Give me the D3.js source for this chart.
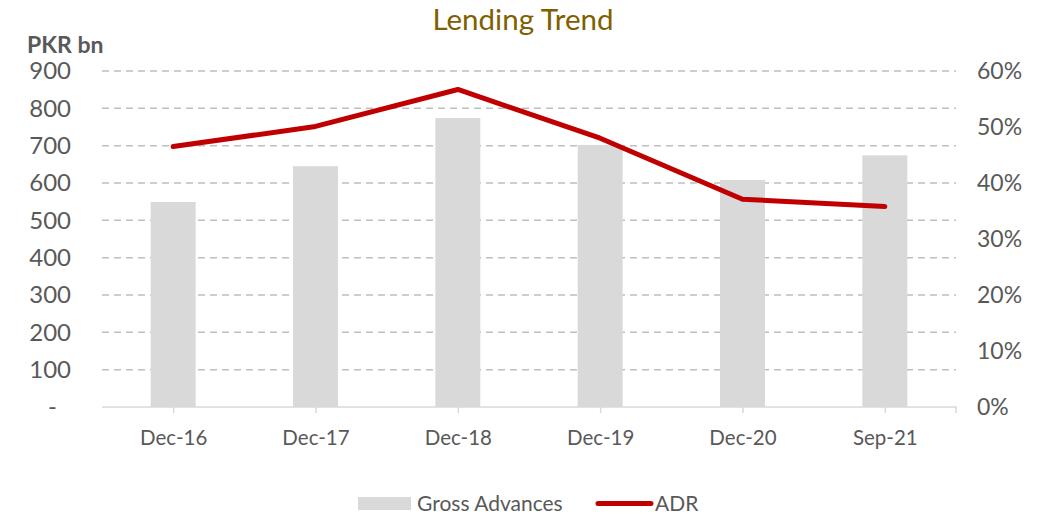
<!DOCTYPE html>
<html><head><meta charset="utf-8">
<script src="https://cdn.jsdelivr.net/npm/d3@7/dist/d3.min.js"></script>
<style>body{margin:0;background:#fff;} svg{display:block;font-family:Lato,"Open Sans",sans-serif;}</style>
</head><body>
<svg id="c" width="1041" height="516"></svg>
<script>
const categories = ["Dec-16","Dec-17","Dec-18","Dec-19","Dec-20","Sep-21"];
const grossAdvances = [549, 645, 774, 702, 608, 674];
const adr = [0.465, 0.501, 0.567, 0.480, 0.371, 0.358];
const leftTicks = [0,100,200,300,400,500,600,700,800,900];
const rightTicks = [0,0.1,0.2,0.3,0.4,0.5,0.6];

const svg = d3.select("#c");
const L = 102, R = 956, T = 71, B = 407;
const x = d3.scaleBand().domain(categories).range([L, R]).paddingInner(0.684).paddingOuter(0.342);
const xc = d3.scalePoint().domain(categories).range([L, R]).padding(0.5);
const yL = d3.scaleLinear().domain([0, 900]).range([B, T]);
const yR = d3.scaleLinear().domain([0, 0.6]).range([B, T]);
const txt = "#595959";

// title
svg.append("text").attr("x", 523).attr("y", 30).attr("text-anchor","middle")
  .attr("font-size", 29.5).attr("fill", "#7F6000").text("Lending Trend");
svg.append("text").attr("x", 27).attr("y", 53).attr("font-size", 23).attr("font-weight","bold")
  .attr("fill", txt).text("PKR bn");

// gridlines
svg.append("g").selectAll("line").data(leftTicks.filter(d=>d>0)).join("line")
  .attr("x1", L).attr("x2", R).attr("y1", d=>yL(d)).attr("y2", d=>yL(d))
  .attr("stroke", "#BFBFBF").attr("stroke-width", 1.5).attr("stroke-dasharray","7,5");

// bars
svg.append("g").selectAll("rect").data(categories).join("rect")
  .attr("x", d=>x(d)).attr("width", x.bandwidth())
  .attr("y", (d,i)=>yL(grossAdvances[i])).attr("height", (d,i)=>B - yL(grossAdvances[i]))
  .attr("fill", "#D9D9D9");

// bottom axis
const xAxis = svg.append("g").attr("transform", `translate(0,${B})`)
  .call(d3.axisBottom(xc).tickSize(6).tickPadding(17));
xAxis.select(".domain").attr("stroke", "#D9D9D9").attr("stroke-width", 1.5).attr("d", `M${L},0H${R}V6`);
xAxis.selectAll(".tick line").attr("stroke", "#D9D9D9").attr("stroke-width", 1.5);
xAxis.selectAll("text").attr("font-size", 20.5).attr("fill", txt).attr("font-family","Lato");

// left axis
const yAxisL = svg.append("g").attr("transform", `translate(71,0)`)
  .call(d3.axisLeft(yL).tickValues(leftTicks).tickSize(0).tickPadding(0).tickFormat(d => d === 0 ? "-" : d));
yAxisL.select(".domain").remove();
yAxisL.selectAll("text").attr("font-size", 24).attr("fill", txt).attr("font-family","Lato");
yAxisL.selectAll(".tick").filter(d=>d===0).select("text").attr("dx", -14);

// right axis
const yAxisR = svg.append("g").attr("transform", `translate(977,0)`)
  .call(d3.axisRight(yR).tickValues(rightTicks).tickSize(0).tickPadding(0).tickFormat(d3.format(".0%")));
yAxisR.select(".domain").remove();
yAxisR.selectAll("text").attr("font-size", 23).attr("fill", txt).attr("font-family","Lato");

// line
const line = d3.line().x((d,i)=>xc(categories[i])).y(d=>yR(d));
svg.append("path").datum(adr).attr("d", line).attr("fill","none")
  .attr("stroke", "#C00000").attr("stroke-width", 5).attr("stroke-linecap","round").attr("stroke-linejoin","round");

// legend
const lg = svg.append("g");
lg.append("rect").attr("x", 358).attr("y", 497).attr("width", 53).attr("height", 13).attr("fill", "#D9D9D9");
lg.append("text").attr("x", 417).attr("y", 502).attr("dominant-baseline","central").attr("font-size", 21).attr("fill", txt).text("Gross Advances");
lg.append("line").attr("x1", 598).attr("x2", 651).attr("y1", 503.5).attr("y2", 503.5)
  .attr("stroke", "#C00000").attr("stroke-width", 5).attr("stroke-linecap","round");
lg.append("text").attr("x", 655).attr("y", 502).attr("dominant-baseline","central").attr("font-size", 21).attr("fill", txt).text("ADR");
</script>
</body></html>
